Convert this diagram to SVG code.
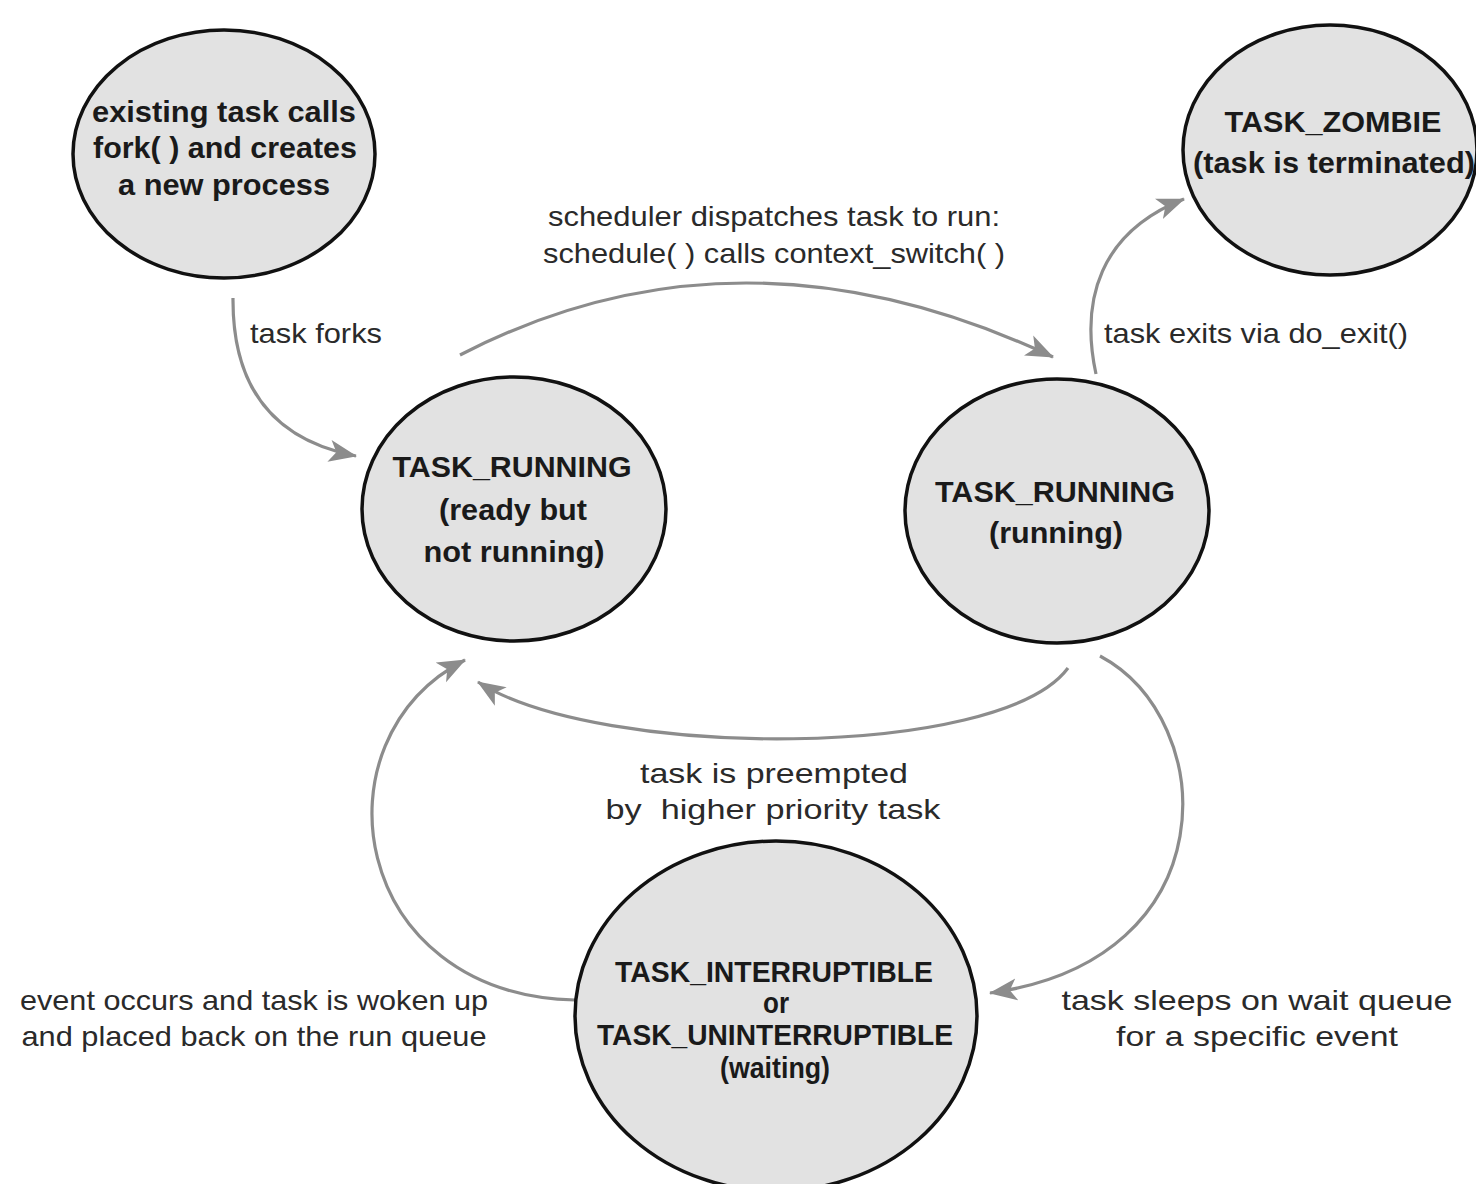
<svg xmlns="http://www.w3.org/2000/svg" width="1476" height="1184" viewBox="0 0 1476 1184">
  <style>
    .state { fill: #e2e2e2; stroke: #111; stroke-width: 3.5; }
    .title { font-family: "Liberation Sans", Arial, sans-serif; font-weight: bold; font-size: 29px; fill: #1a1a1a; text-anchor: middle; }
    .label { font-family: "Liberation Sans", Arial, sans-serif; font-size: 28px; fill: #2a2a2a; text-anchor: middle; }
    .edge { fill: none; stroke: #8c8c8c; stroke-width: 3.2; marker-end: url(#arrow); }
  </style>
  <defs>
    <marker id="arrow" markerUnits="userSpaceOnUse" markerWidth="30" markerHeight="24" viewBox="0 0 30 24" refX="27" refY="12" orient="auto">
      <path d="M0,1 L28,12 L0,23 L7,12 Z" fill="#8c8c8c"/>
    </marker>
  </defs>

  <rect width="1476" height="1184" fill="#ffffff"/>

  <!-- transitions -->
  <g id="connectors">
    <path class="edge" d="M233,298 Q232,432 356,456"/>
    <path class="edge" d="M460,355 Q740,210 1053,357"/>
    <path class="edge" d="M1096,374 C1080,300 1100,232 1184,199"/>
    <path class="edge" d="M1068,668 C1000,760 600,760 478,682"/>
    <path class="edge" d="M575,1000 C350,995 310,740 465,660"/>
    <path class="edge" d="M1100,656 C1220,720 1230,960 990,993"/>

    <text class="label" x="774" y="226" textLength="452" lengthAdjust="spacingAndGlyphs">scheduler dispatches task to run:</text>
    <text class="label" x="774" y="263" textLength="462" lengthAdjust="spacingAndGlyphs">schedule( ) calls context_switch( )</text>
    <text class="label" x="316" y="343" textLength="132" lengthAdjust="spacingAndGlyphs">task forks</text>
    <text class="label" x="1256" y="343" textLength="304" lengthAdjust="spacingAndGlyphs">task exits via do_exit()</text>
    <text class="label" x="774" y="783" textLength="268" lengthAdjust="spacingAndGlyphs">task is preempted</text>
    <text class="label" x="773" y="819" textLength="335" lengthAdjust="spacingAndGlyphs">by&#160; higher priority task</text>
    <text class="label" x="254" y="1010" textLength="468" lengthAdjust="spacingAndGlyphs">event occurs and task is woken up</text>
    <text class="label" x="254" y="1046" textLength="465" lengthAdjust="spacingAndGlyphs">and placed back on the run queue</text>
    <text class="label" x="1257" y="1010" textLength="391" lengthAdjust="spacingAndGlyphs">task sleeps on wait queue</text>
    <text class="label" x="1257" y="1046" textLength="282" lengthAdjust="spacingAndGlyphs">for a specific event</text>
  </g>

  <!-- states -->
  <g id="fork">
    <ellipse class="state" cx="224" cy="154" rx="151" ry="124"/>
    <text class="title" x="224" y="122" textLength="264" lengthAdjust="spacingAndGlyphs">existing task calls</text>
    <text class="title" x="225" y="158" textLength="264" lengthAdjust="spacingAndGlyphs">fork( ) and creates</text>
    <text class="title" x="224" y="195" textLength="212" lengthAdjust="spacingAndGlyphs">a new process</text>
  </g>

  <g id="zombie">
    <ellipse class="state" cx="1330" cy="150" rx="147" ry="125"/>
    <text class="title" x="1333" y="132" textLength="217" lengthAdjust="spacingAndGlyphs">TASK_ZOMBIE</text>
    <text class="title" x="1334" y="173" textLength="282" lengthAdjust="spacingAndGlyphs">(task is terminated)</text>
  </g>

  <g id="ready">
    <ellipse class="state" cx="514" cy="509" rx="152" ry="132"/>
    <text class="title" x="512" y="477" textLength="239" lengthAdjust="spacingAndGlyphs">TASK_RUNNING</text>
    <text class="title" x="513" y="520" textLength="148" lengthAdjust="spacingAndGlyphs">(ready but</text>
    <text class="title" x="514" y="562" textLength="181" lengthAdjust="spacingAndGlyphs">not running)</text>
  </g>

  <g id="running">
    <ellipse class="state" cx="1057" cy="511" rx="152" ry="132"/>
    <text class="title" x="1055" y="502" textLength="240" lengthAdjust="spacingAndGlyphs">TASK_RUNNING</text>
    <text class="title" x="1056" y="543" textLength="134" lengthAdjust="spacingAndGlyphs">(running)</text>
  </g>

  <g id="waiting">
    <ellipse class="state" cx="776" cy="1016" rx="201" ry="175"/>
    <text class="title" x="774" y="982" textLength="318" lengthAdjust="spacingAndGlyphs">TASK_INTERRUPTIBLE</text>
    <text class="title" x="776" y="1013" textLength="26" lengthAdjust="spacingAndGlyphs">or</text>
    <text class="title" x="775" y="1045" textLength="356" lengthAdjust="spacingAndGlyphs">TASK_UNINTERRUPTIBLE</text>
    <text class="title" x="775" y="1078" textLength="110" lengthAdjust="spacingAndGlyphs">(waiting)</text>
  </g>
</svg>
